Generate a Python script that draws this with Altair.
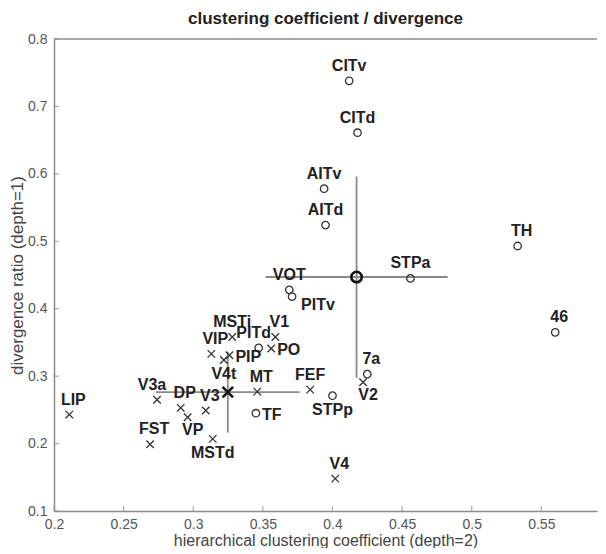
import altair as alt
import pandas as pd

# ---- data ----
names = ["CITv", "CITd", "AITv", "AITd", "TH", "STPa", "VOT", "PITv", "46", "PITd", "7a", "STPp", "TF",
         "V1", "PO", "MSTi", "VIP", "V4t", "PIP", "MT", "FEF", "V2", "V3a", "DP", "VP", "V3", "FST", "MSTd", "LIP", "V4"]
clustering = [0.412, 0.418, 0.394, 0.395, 0.533, 0.456, 0.369, 0.371, 0.560, 0.347, 0.425, 0.400, 0.345,
              0.359, 0.356, 0.328, 0.313, 0.322, 0.326, 0.346, 0.384, 0.422, 0.274, 0.291, 0.296, 0.309, 0.269, 0.314, 0.211, 0.402]
divergence = [0.738, 0.661, 0.578, 0.524, 0.493, 0.445, 0.428, 0.418, 0.365, 0.342, 0.303, 0.271, 0.245,
              0.358, 0.341, 0.358, 0.333, 0.324, 0.331, 0.277, 0.280, 0.291, 0.265, 0.253, 0.239, 0.249, 0.199, 0.207, 0.243, 0.148]
kinds = ["circle"] * 13 + ["cross"] * 17
places = ["above", "above", "above", "above", "above_r", "above", "above", "right_low", "above_r", "above_l", "above_r", "below", "right",
          "above_r", "right", "above", "above_r", "below", "right", "above_r", "above", "below_r", "above_l", "above_r", "below_r", "above_r", "above_r", "below", "above_r", "above_r"]

x_ticks = [0.2, 0.25, 0.3, 0.35, 0.4, 0.45, 0.5, 0.55]
y_ticks = [0.1, 0.2, 0.3, 0.4, 0.5, 0.6, 0.7, 0.8]
x_range = [0.2, 0.59]
y_range = [0.1, 0.8]

df = pd.DataFrame({"name": names, "cc": clustering, "div": divergence, "kind": kinds, "place": places})
xt = pd.DataFrame({"t": x_ticks})
yt = pd.DataFrame({"t": y_ticks})
top_edge = pd.DataFrame({"t": y_range[1:]})

# ---- styling ----
FONT = "Liberation Sans"
AXIS_COLOR = "#8c8c8c"
INK = "#333333"

xscale = alt.Scale(domain=x_range, nice=False, zero=False)
yscale = alt.Scale(domain=y_range, nice=False, zero=False)
xaxis = alt.Axis(values=x_ticks, format="~g", title="hierarchical clustering coefficient (depth=2)",
                 ticks=False, tickSize=0, grid=False, labelPadding=6, titlePadding=1, labelFlush=False)
yaxis = alt.Axis(values=y_ticks, format=".1f", title="divergence ratio (depth=1)",
                 ticks=False, tickSize=0, grid=False, labelPadding=7, titlePadding=1, labelFlush=False)


def X(field):
    return alt.X(field, scale=xscale, axis=xaxis)


def Y(field):
    return alt.Y(field, scale=yscale, axis=yaxis)


shape_scale = alt.Scale(domain=["circle", "cross"], range=["circle", "M-1,-1L1,1M-1,1L1,-1"])

base = alt.Chart(df)

stats = base.transform_aggregate(
    mx="mean(cc)", my="mean(div)", sx="stdev(cc)", sy="stdev(div)", groupby=["kind"]
).transform_calculate(
    x_lo="datum.mx - datum.sx", x_hi="datum.mx + datum.sx",
    y_lo="datum.my - datum.sy", y_hi="datum.my + datum.sy",
)

hbar = stats.mark_rule(color="#8a8a8a", strokeWidth=1.8).encode(x=X("x_lo:Q"), x2="x_hi:Q", y=Y("my:Q"))
vbar = stats.mark_rule(color="#8a8a8a", strokeWidth=1.8).encode(x=X("mx:Q"), y=Y("y_lo:Q"), y2="y_hi:Q")

means = stats.mark_point(filled=False, color="#111111", strokeWidth=2.6, size=110, opacity=1).encode(
    x=X("mx:Q"), y=Y("my:Q"),
    shape=alt.Shape("kind:N", scale=shape_scale, legend=None),
)

points = base.mark_point(filled=False, color=INK, strokeWidth=1.3, size=56, opacity=1).encode(
    x=X("cc:Q"), y=Y("div:Q"),
    shape=alt.Shape("kind:N", scale=shape_scale, legend=None),
)

# inward tick marks along the bottom and left axes
xtick_marks = alt.Chart(xt).transform_calculate(lo=str(y_range[0])).mark_tick(
    color=AXIS_COLOR, thickness=1.2, size=5, orient="vertical", yOffset=-2.5
).encode(x=X("t:Q"), y=Y("lo:Q"))
ytick_marks = alt.Chart(yt).transform_calculate(lo=str(x_range[0])).mark_tick(
    color=AXIS_COLOR, thickness=1.2, size=5, orient="horizontal", xOffset=2.5
).encode(y=Y("t:Q"), x=X("lo:Q"))

top_line = alt.Chart(top_edge).mark_rule(color=AXIS_COLOR, strokeWidth=1.5).encode(y=Y("t:Q"))

placement = {
    "above": dict(align="center", dx=0, dy=-10),
    "above_r": dict(align="center", dx=4, dy=-10),
    "above_l": dict(align="center", dx=-5, dy=-10),
    "below": dict(align="center", dx=0, dy=19),
    "below_r": dict(align="center", dx=5, dy=18),
    "right": dict(align="left", dx=6, dy=7),
    "right_low": dict(align="left", dx=9, dy=13),
}

label_layers = []
for key, opts in placement.items():
    label_layers.append(
        base.transform_filter(alt.datum.place == key).mark_text(
            font=FONT, fontSize=16, fontWeight="bold", color="#222222", baseline="alphabetic", **opts
        ).encode(x=X("cc:Q"), y=Y("div:Q"), text="name:N")
    )

chart = alt.layer(
    top_line, hbar, vbar, xtick_marks, ytick_marks, points, means, *label_layers
).properties(
    width=590, height=540,
    autosize=alt.AutoSizeParams(type="fit", contains="padding"),
    title=alt.TitleParams("clustering coefficient / divergence", font=FONT, fontSize=17,
                          fontWeight="bold", color="#222222", anchor="middle", offset=4),
    padding={"left": 0, "top": 2, "right": 0, "bottom": 0},
).configure_view(
    stroke=None
).configure_axis(
    domainColor=AXIS_COLOR, domainWidth=1.5,
    labelFont=FONT, labelFontSize=14, labelColor="#555555",
    titleFont=FONT, titleFontSize=16, titleFontWeight="normal", titleColor="#444444",
).configure_axisY(titleFontSize=17)

chart.save("out.html", embed_options={"renderer": "svg", "actions": False})
